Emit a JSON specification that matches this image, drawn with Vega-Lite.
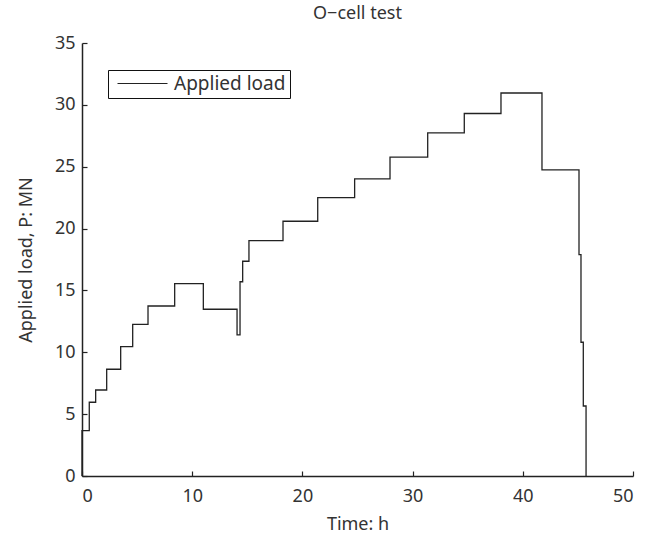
{
  "$schema": "https://vega.github.io/schema/vega-lite/v6.json",
  "autosize": "none",
  "width": 551,
  "height": 433,
  "padding": {"left": 82, "top": 43, "right": 26, "bottom": 58},
  "background": "white",
  "title": {"text": "O−cell test", "font": "Noto Sans", "fontSize": 18, "fontWeight": "normal", "color": "#333", "offset": 11},
  "data": {"values": [
    {"t": 0, "p": 0, "s": "Applied load"},
    {"t": 0, "p": 3.67, "s": "Applied load"},
    {"t": 0.66, "p": 5.96, "s": "Applied load"},
    {"t": 1.24, "p": 6.95, "s": "Applied load"},
    {"t": 2.24, "p": 8.63, "s": "Applied load"},
    {"t": 3.51, "p": 10.46, "s": "Applied load"},
    {"t": 4.6, "p": 12.26, "s": "Applied load"},
    {"t": 5.99, "p": 13.74, "s": "Applied load"},
    {"t": 8.41, "p": 15.55, "s": "Applied load"},
    {"t": 11.01, "p": 13.48, "s": "Applied load"},
    {"t": 14.07, "p": 11.4, "s": "Applied load"},
    {"t": 14.34, "p": 15.7, "s": "Applied load"},
    {"t": 14.58, "p": 17.36, "s": "Applied load"},
    {"t": 15.15, "p": 19.03, "s": "Applied load"},
    {"t": 18.24, "p": 20.59, "s": "Applied load"},
    {"t": 21.39, "p": 22.5, "s": "Applied load"},
    {"t": 24.74, "p": 24.01, "s": "Applied load"},
    {"t": 27.95, "p": 25.77, "s": "Applied load"},
    {"t": 31.37, "p": 27.73, "s": "Applied load"},
    {"t": 34.69, "p": 29.3, "s": "Applied load"},
    {"t": 38.02, "p": 30.96, "s": "Applied load"},
    {"t": 41.74, "p": 24.74, "s": "Applied load"},
    {"t": 45.1, "p": 17.9, "s": "Applied load"},
    {"t": 45.28, "p": 10.81, "s": "Applied load"},
    {"t": 45.49, "p": 5.66, "s": "Applied load"},
    {"t": 45.74, "p": 0, "s": "Applied load"}
  ]},
  "mark": {"type": "line", "interpolate": "step-after", "strokeWidth": 1.3},
  "encoding": {
    "x": {"field": "t", "type": "quantitative", "scale": {"domain": [0, 50], "nice": false},
      "axis": {"title": "Time: h", "values": [0, 10, 20, 30, 40, 50], "grid": false, "labelPadding": 16, "titlePadding": 10}},
    "y": {"field": "p", "type": "quantitative", "scale": {"domain": [0, 35], "nice": false},
      "axis": {"title": "Applied load, P: MN", "values": [0, 5, 10, 15, 20, 25, 30, 35], "grid": false, "labelPadding": 12, "titlePadding": 19}},
    "color": {"field": "s", "type": "nominal", "scale": {"range": ["#222"]},
      "legend": {"title": null, "orient": "none", "legendX": 26, "legendY": 27, "symbolType": "M-5,0H5", "symbolSize": 100, "symbolOffset": 21, "symbolStrokeWidth": 1.2,
        "labelFont": "Noto Sans", "labelFontSize": 19, "labelColor": "#333", "labelOffset": 22, "strokeColor": "#111", "padding": 4, "fillColor": "white"}}
  },
  "config": {
    "view": {"stroke": null},
    "axis": {"domainColor": "#222", "domainWidth": 1.5, "tickColor": "#222", "tickWidth": 1.2, "tickSize": -5,
      "labelFont": "Noto Sans", "labelFontSize": 18, "labelColor": "#333",
      "titleFont": "Noto Sans", "titleFontSize": 18, "titleFontWeight": "normal", "titleColor": "#333"}
  }
}
